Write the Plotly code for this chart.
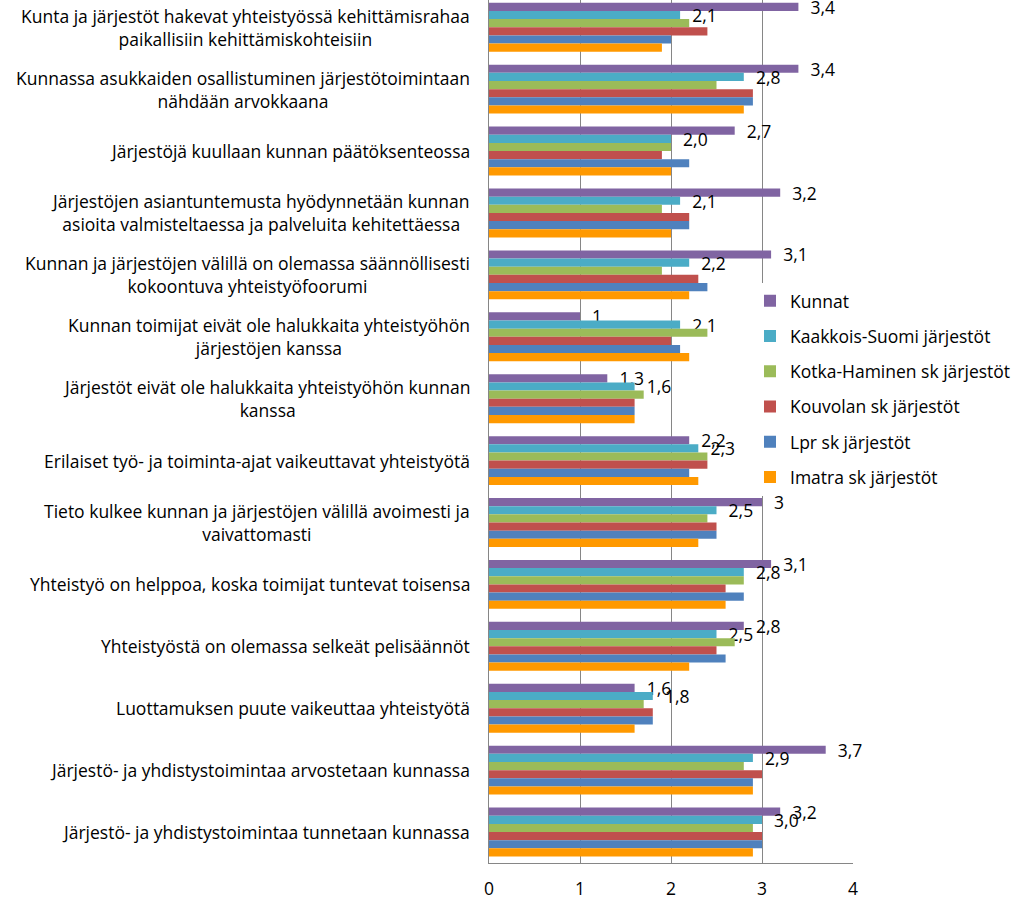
import plotly.graph_objects as go

categories = [
    "Kunta ja järjestöt hakevat yhteistyössä kehittämisrahaa<br>paikallisiin kehittämiskohteisiin",
    "Kunnassa asukkaiden osallistuminen järjestötoimintaan<br>nähdään arvokkaana",
    "Järjestöjä kuullaan kunnan päätöksenteossa",
    "Järjestöjen asiantuntemusta hyödynnetään kunnan<br>asioita valmisteltaessa ja palveluita kehitettäessa",
    "Kunnan ja järjestöjen välillä on olemassa säännöllisesti<br>kokoontuva yhteistyöfoorumi",
    "Kunnan toimijat eivät ole halukkaita yhteistyöhön<br>järjestöjen kanssa",
    "Järjestöt eivät ole halukkaita yhteistyöhön kunnan<br>kanssa",
    "Erilaiset työ- ja toiminta-ajat vaikeuttavat yhteistyötä",
    "Tieto kulkee kunnan ja järjestöjen välillä avoimesti ja<br>vaivattomasti",
    "Yhteistyö on helppoa, koska toimijat tuntevat toisensa",
    "Yhteistyöstä on olemassa selkeät pelisäännöt",
    "Luottamuksen puute vaikeuttaa yhteistyötä",
    "Järjestö- ja yhdistystoimintaa arvostetaan kunnassa",
    "Järjestö- ja yhdistystoimintaa tunnetaan kunnassa",
]

series_names = [
    "Kunnat",
    "Kaakkois-Suomi järjestöt",
    "Kotka-Haminen sk järjestöt",
    "Kouvolan sk järjestöt",
    "Lpr sk järjestöt",
    "Imatra sk järjestöt",
]

kunnat = [3.4, 3.4, 2.7, 3.2, 3.1, 1.0, 1.3, 2.2, 3.0, 3.1, 2.8, 1.6, 3.7, 3.2]
kaakkois = [2.1, 2.8, 2.0, 2.1, 2.2, 2.1, 1.6, 2.3, 2.5, 2.8, 2.5, 1.8, 2.9, 3.0]
kotka = [2.2, 2.5, 2.0, 1.9, 1.9, 2.4, 1.7, 2.4, 2.4, 2.8, 2.7, 1.7, 2.8, 2.9]
kouvola = [2.4, 2.9, 1.9, 2.2, 2.3, 2.0, 1.6, 2.4, 2.5, 2.6, 2.5, 1.8, 3.0, 3.0]
lpr = [2.0, 2.9, 2.2, 2.2, 2.4, 2.1, 1.6, 2.2, 2.5, 2.8, 2.6, 1.8, 2.9, 3.0]
imatra = [1.9, 2.8, 2.0, 2.0, 2.2, 2.2, 1.6, 2.3, 2.3, 2.6, 2.2, 1.6, 2.9, 2.9]

kunnat_labels = ["3,4", "3,4", "2,7", "3,2", "3,1", "1", "1,3", "2,2", "3", "3,1", "2,8", "1,6", "3,7", "3,2"]
kaakkois_labels = ["2,1", "2,8", "2,0", "2,1", "2,2", "2,1", "1,6", "2,3", "2,5", "2,8", "2,5", "1,8", "2,9", "3,0"]

x_ticks = [0, 1, 2, 3, 4]

colors = ["#8064A2", "#4BACC6", "#9BBB59", "#C0504D", "#4F81BD", "#FF9900"]
values = [kunnat, kaakkois, kotka, kouvola, lpr, imatra]
labels = [kunnat_labels, kaakkois_labels, None, None, None, None]

FONT = "Open Sans"
FS = 17.5
fig = go.Figure()
for i, (name, vals, col, lab) in enumerate(zip(series_names, values, colors, labels)):
    kw = {}
    if lab is not None:
        kw = dict(
            text=["\u00a0\u00a0" + t for t in lab],
            textposition="outside",
            textfont=dict(family=FONT, size=FS, color="#000000"),
            cliponaxis=False,
            constraintext="none",
        )
    fig.add_trace(go.Bar(
        y=categories, x=vals, name=name, orientation="h",
        marker=dict(color=col, line=dict(width=0)),
        legendgroup=f"g{i}",
        **kw,
    ))

for c in categories:
    fig.add_annotation(
        x=-0.048, xref="paper", y=c, yref="y",
        text=c, showarrow=False, xanchor="right", yanchor="middle",
        align="center", font=dict(family=FONT, size=FS, color="#000000"),
    )

# white area behind the legend that hides the gridlines there
fig.add_shape(
    type="rect", xref="paper", yref="paper",
    x0=0.7445, x1=1.4505, y0=0.4253, y1=0.672,
    fillcolor="white", line=dict(width=0), layer="above",
)

fig.update_layout(
    width=1017, height=897,
    margin=dict(l=489, r=164, t=0, b=34, autoexpand=False),
    paper_bgcolor="white", plot_bgcolor="white",
    barmode="group", bargap=0.21, bargroupgap=0,
    showlegend=True,
    legend=dict(
        x=1.4478, y=0.6723, xanchor="right", yanchor="top",
        bgcolor="rgba(0,0,0,0)", font=dict(family=FONT, size=FS, color="#000000"),
        tracegroupgap=9.5, traceorder="grouped",
    ),
    font=dict(family=FONT, size=FS, color="#000000"),
)
fig.update_xaxes(
    range=[0, 4], tickvals=x_ticks, ticktext=[str(t) for t in x_ticks],
    showgrid=True, gridcolor="#868686", gridwidth=1,
    showline=True, linecolor="#868686", linewidth=1,
    zeroline=False, ticks="", ticklabelstandoff=10, automargin=False,
    tickfont=dict(family=FONT, size=FS, color="#000000"),
)
fig.update_yaxes(
    range=[13.5, -0.44], type="category", automargin=False,
    showticklabels=False, showgrid=False,
    showline=True, linecolor="#868686", linewidth=1, ticks="",
)

fig.write_html(
    "out.html",
    config={"displayModeBar": False},
    post_script="document.body.style.margin='0px';",
)
